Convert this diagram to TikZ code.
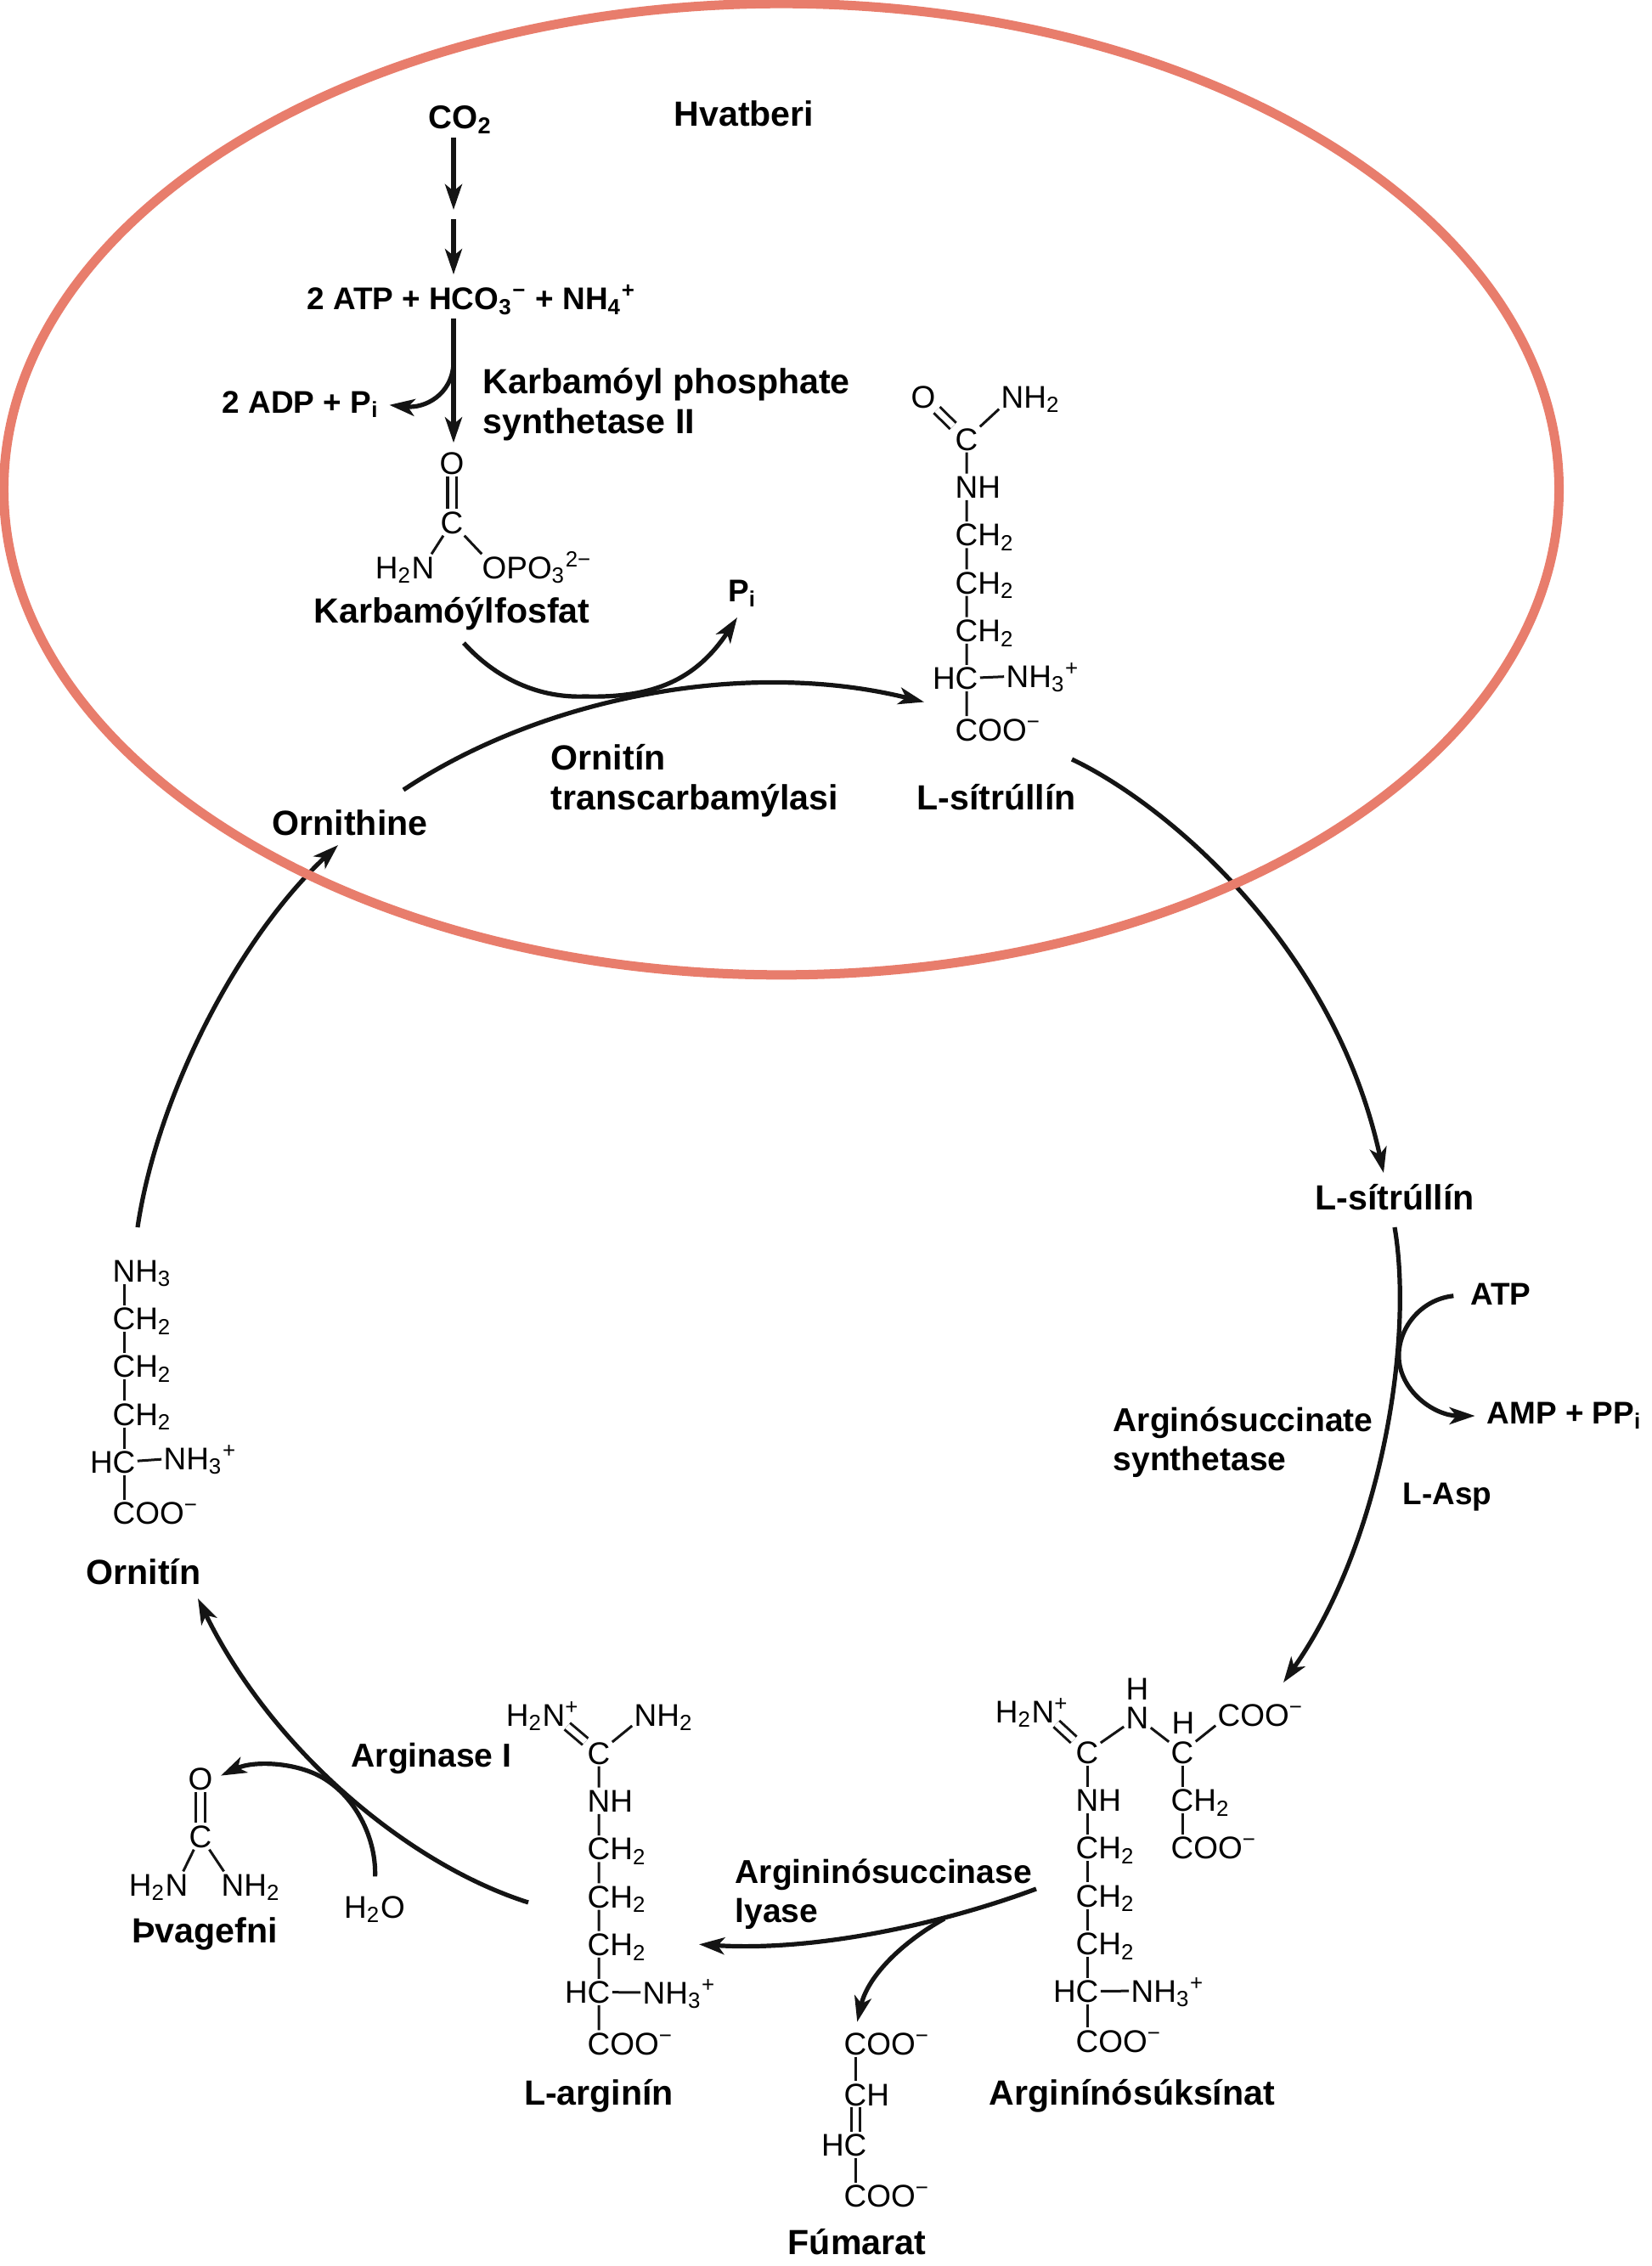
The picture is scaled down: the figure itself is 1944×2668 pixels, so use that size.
\documentclass[tikz,border=0pt]{standalone}
\usepackage{fontspec}
\setmainfont{Liberation Sans}
\usepackage{xcolor}
\usepackage{tikz}
\usetikzlibrary{arrows.meta,positioning,shapes.geometric}
\definecolor{mitored}{RGB}{232,125,108}
\definecolor{inkblack}{RGB}{20,20,20}
\newcommand{\chtwo}{C\rlap{H\textsubscript{2}}}
\newcommand{\nhtwo}{N\rlap{H\textsubscript{2}}}
\newcommand{\hntwo}{\llap{H\textsubscript{2}}N}
\newcommand{\nhthree}{N\rlap{H\textsubscript{3}\textsuperscript{+}}}
\newcommand{\cooneg}{C\rlap{OO\textsuperscript{−}}}

\begin{document}
\begin{tikzpicture}[
      x=0.01cm, y=-0.01cm,
      node distance=0.25cm,
      atom/.style={font=\fontsize{10.5}{12}\selectfont, inner sep=0.5pt,
                  text height=7.5pt, text depth=0pt},
      lbl/.style={font=\fontsize{11.7}{13.2}\selectfont\bfseries, inner sep=0pt, align=left},
      enzlbl/.style={font=\fontsize{11.1}{13.2}\selectfont\bfseries, inner sep=0pt, align=left},
      smalllbl/.style={font=\fontsize{10.5}{12}\selectfont\bfseries, inner sep=1pt},
      midlbl/.style={font=\fontsize{11}{13}\selectfont\bfseries, inner sep=1pt},
      bond/.style={line width=0.03cm, inkblack},
      dbl/.style={bond, double, double distance=0.07cm},
      arr/.style={line width=0.052cm, inkblack,
                  -{Stealth[length=0.3cm,width=0.2cm,inset=0.08cm]}}]
    \useasboundingbox (0,0) rectangle (1944,2668);

    \node[lbl] (hvat) at (876,134) {Hvatberi};
    \node[midlbl] (co2) at (542,141) {CO\textsubscript{2}};
    \coordinate (step) at (534,258);
    \node[midlbl, font=\fontsize{10.5}{12}\selectfont\bfseries] (atp) at (555,353) {2 ATP + HCO\textsubscript{3}\textsuperscript{−} + NH\textsubscript{4}\textsuperscript{+}};
    \node[smalllbl] (adp) at (354,476) {2 ADP + P\textsubscript{i}};
    \node[lbl, anchor=west] (cps) at (568,476) {Karbamóyl phosphate\\synthetase II};
    \coordinate (branch) at (534,428);

    \node[atom] (cpo) at (532,545) {O};
    \node[atom] (cpc) at (532,615) {C};
    \node[atom] (cpn) at (498,668) {\hntwo};
    \node[atom] (cpp) at (582,668) {O\rlap{PO\textsubscript{3}\textsuperscript{2−}}};
    \node[lbl] (cplbl) at (532,723) {Karbamóýlfosfat};
    \node[smalllbl] (pi) at (874,699) {P\textsubscript{i}};

    \node[atom] (cito) at (1087,467) {O};
    \node[atom] (citc) at (1138,517) {C};
    \node[atom] (citn) at (1192,467) {\nhtwo};
    \node[atom, below=of citc] (citnh) {N\rlap{H}};
    \node[atom, below=of citnh] (citca) {\chtwo};
    \node[atom, below=of citca] (citcb) {\chtwo};
    \node[atom, below=of citcb] (citcc) {\chtwo};
    \node[atom, below=of citcc] (cithc) {\llap{H}C};
    \node[atom] (citam) at (1198,796) {\nhthree};
    \node[atom, below=0.29cm of cithc] (citcoo) {\cooneg};
    \node[lbl] (citlbl) at (1173,939) {L-sítrúllín};
    \node[lbl, anchor=west] (otc) at (648,919) {Ornitín\\transcarbamýlasi};
    \node[lbl] (ornthe) at (412,969) {Ornithine};

    \node[lbl] (citlbl2) at (1642,1410) {L-sítrúllín};
    \node[smalllbl] (atp2) at (1767,1524) {ATP};
    \node[smalllbl] (amp) at (1842,1667) {AMP + PP\textsubscript{i}};
    \node[enzlbl, anchor=west] (ass) at (1310,1698) {Arginósuccinate\\synthetase};
    \node[smalllbl] (asp) at (1704,1763) {L-Asp};

    \node[atom] (orna) at (146,1496) {N\rlap{H\textsubscript{3}}};
    \node[atom, below=of orna] (ornb) {\chtwo};
    \node[atom, below=of ornb] (ornc) {\chtwo};
    \node[atom, below=of ornc] (ornd) {\chtwo};
    \node[atom, below=of ornd] (ornhc) {\llap{H}C};
    \node[atom] (ornam) at (206,1717) {\nhthree};
    \node[atom, below=0.29cm of ornhc] (orncoo) {\cooneg};
    \node[lbl] (ornlbl) at (169,1851) {Ornitín};

    \node[enzlbl] (argse) at (508,2070) {Arginase I};
    \node[atom] (ureao) at (236,2094) {O};
    \node[atom] (ureac) at (236,2162) {C};
    \node[atom] (urean) at (208,2219) {\hntwo};
    \node[atom] (ureanb) at (274,2219) {\nhtwo};
    \node[lbl] (urealbl) at (241,2277) {Þvagefni};
    \node[atom] (water) at (441,2245) {H\textsubscript{2}O};

    \node[atom] (argn) at (652,2019) {\hntwo\rlap{\textsuperscript{+}}};
    \node[atom] (argnb) at (760,2019) {\nhtwo};
    \node[atom] (argc) at (705,2064) {C};
    \node[atom, below=of argc] (argnh) {N\rlap{H}};
    \node[atom, below=of argnh] (argca) {\chtwo};
    \node[atom, below=of argca] (argcb) {\chtwo};
    \node[atom, below=of argcb] (argcc) {\chtwo};
    \node[atom, below=of argcc] (arghc) {\llap{H}C};
    \node[atom] (argam) at (770,2346) {\nhthree};
    \node[atom, below=0.29cm of arghc] (argcoo) {\cooneg};
    \node[lbl] (arglbl) at (705,2468) {L-arginín};

    \node[enzlbl, anchor=west] (asl) at (865,2230) {Argininósuccinase\\lyase};
    \coordinate (fork) at (1112,2259);

    \node[atom] (fumca) at (1007,2406) {\cooneg};
    \node[atom, below=0.285cm of fumca] (fumcb) {C\rlap{H}};
    \node[atom, below=0.285cm of fumcb] (fumcc) {\llap{H}C};
    \node[atom, below=0.285cm of fumcc] (fumcd) {\cooneg};
    \node[lbl] (fumlbl) at (1009,2640) {Fúmarat};

    \node[atom] (asn) at (1228,2015) {\hntwo\rlap{\textsuperscript{+}}};
    \node[atom] (ash) at (1339,1988) {H};
    \node[atom] (asnb) at (1339,2022) {N};
    \node[atom] (ashb) at (1393,2028) {H};
    \node[atom] (asc) at (1280,2063) {C};
    \node[atom] (ascb) at (1392,2063) {C};
    \node[atom] (ascooa) at (1447,2019) {\cooneg};
    \node[atom, below=of ascb] (asch) {\chtwo};
    \node[atom, below=of asch] (ascoob) {\cooneg};
    \node[atom, below=of asc] (asnh) {N\rlap{H}};
    \node[atom, below=of asnh] (asca) {\chtwo};
    \node[atom, below=of asca] (ascd) {\chtwo};
    \node[atom, below=of ascd] (asce) {\chtwo};
    \node[atom, below=of asce] (ashc) {\llap{H}C};
    \node[atom] (asam) at (1345,2344) {\nhthree};
    \node[atom, below=0.27cm of ashc] (ascooc) {\cooneg};
    \node[lbl] (aslbl) at (1333,2468) {Arginínósúksínat};

    \draw[dbl] (cpo) -- (cpc);
    \draw[bond] (cpn) -- (cpc) -- (cpp);
    \draw[dbl] (cito) -- (citc);
    \draw[bond] (citn) -- (citc) -- (citnh) -- (citca) -- (citcb) -- (citcc) -- (cithc) -- (citcoo);
    \draw[bond] (cithc) -- (citam);
    \draw[bond] (orna) -- (ornb) -- (ornc) -- (ornd) -- (ornhc) -- (orncoo);
    \draw[bond] (ornhc) -- (ornam);
    \draw[dbl] (ureao) -- (ureac);
    \draw[bond] (urean) -- (ureac) -- (ureanb);
    \draw[dbl] (argn) -- (argc);
    \draw[bond] (argnb) -- (argc) -- (argnh) -- (argca) -- (argcb) -- (argcc) -- (arghc) -- (argcoo);
    \draw[bond] (arghc) -- (argam);
    \draw[bond] (fumca) -- (fumcb);
    \draw[dbl] (fumcb) -- (fumcc);
    \draw[bond] (fumcc) -- (fumcd);
    \draw[dbl] (asn) -- (asc);
    \draw[bond] (asc) -- (asnb) -- (ascb) -- (ascooa);
    \draw[bond] (ascb) -- (asch) -- (ascoob);
    \draw[bond] (asc) -- (asnh) -- (asca) -- (ascd) -- (asce) -- (ashc) -- (ascooc);
    \draw[bond] (ashc) -- (asam);

    \draw[arr, shorten >=0.11cm] (co2.south -| step) -- (step);
    \draw[arr, shorten >=0.08cm] (step) -- (atp.north -| step);
    \draw[arr, shorten >=0.08cm] (atp.south -| step) -- (cpo.north -| step);
    \draw[arr, shorten >=0.08cm] (branch) .. controls (532,465) and (500,481) .. (adp.east);
    \draw[arr] ([shift={(14,14)}]cplbl.south) .. controls (585,800) and (635,822) .. (689,820)
        .. controls (770,822) and (820,800) .. (868,727);
    \draw[arr] ([shift={(63,-39)}]ornthe.center) .. controls (640,820) and (880,775) .. ([shift={(-50,28)}]cithc.center);
    \draw[arr] ([shift={(89,-45)}]citlbl.center) .. controls (1370,945) and (1570,1110) .. ([shift={(-13,-29)}]citlbl2.center);
    \draw[arr] ([shift={(0,35)}]citlbl2.center) .. controls (1665,1580) and (1625,1820) .. ([shift={(64,-38)}]ascooa.center);
    \draw[arr, shorten <=0.16cm, shorten >=0.1cm] (atp2.west) .. controls (1672,1530) and (1645,1565) .. (1647,1600)
        .. controls (1650,1640) and (1690,1667) .. (amp.west);
    \draw[arr] ([shift={(-60,-8)}]ascd.center) .. controls (1110,2265) and (960,2298) .. ([shift={(118,0)}]argcc.center);
    \draw[arr, shorten >=0.1cm] (fork) .. controls (1065,2285) and (1022,2325) .. (fumca.north);
    \draw[arr] ([shift={(-83,7)}]argcb.center) .. controls (480,2195) and (320,2060) .. ([shift={(64,31)}]ornlbl.center);
    \draw[arr, shorten <=0.2cm, shorten >=0.08cm] (water.north) .. controls (443,2165) and (420,2120) .. (386,2097)
        .. controls (355,2075) and (300,2072) .. (ureao.east);
    \draw[arr] ([shift={(16,-51)}]orna.center) .. controls (185,1290) and (280,1105) .. ([shift={(-14,26)}]ornthe.center);

    \node[draw=mitored, line width=0.11cm, ellipse, inner sep=0pt,
          minimum width=18.3cm, minimum height=11.43cm] (matrix) at (920,576) {};
\end{tikzpicture}
\end{document}
